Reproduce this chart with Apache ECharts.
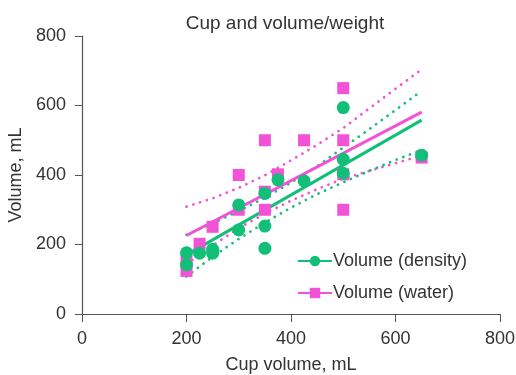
<!DOCTYPE html>
<html lang="en">

<head>
    <meta charset="UTF-8">
    <title>Cup and volume/weight</title>
    <script src="https://cdn.jsdelivr.net/npm/echarts@6/dist/echarts.min.js"></script>
    <style>
        html, body { margin: 0; padding: 0; background: #fff; }
        #chart { width: 516px; height: 375px; }
    </style>
</head>

<body>
    <div id="chart"></div>
    <script>
        // measured points [cup volume, volume]
        var densityPts = [
            [200, 176], [200, 141], [225, 175], [250, 186], [250, 175],
            [300, 314], [300, 242], [350, 347], [350, 253], [350, 189],
            [375, 386], [425, 383], [500, 594], [500, 445], [500, 405], [650, 457]
        ];
        var waterPts = [
            [200, 152], [200, 124], [225, 202], [250, 251], [300, 400],
            [300, 300], [350, 500], [350, 352], [350, 300], [375, 402],
            [425, 500], [500, 650], [500, 500], [500, 402], [500, 300], [650, 450]
        ];
        // fit lines and bands, read at these x
        var bandX = [200, 250, 300, 350, 400, 450, 500, 550, 600, 650];
        var densityFit = [170, 213, 256, 299, 342, 385, 429, 472, 515, 558];
        var densityUpper = [228, 261, 296, 335, 378, 425, 479, 532, 587, 642];
        var densityLower = [108, 165, 216, 263, 306, 345, 379, 412, 443, 472];
        var waterFit = [226, 265, 305, 344, 384, 423, 462, 502, 541, 581];
        var waterUpper = [309, 333, 363, 399, 442, 487, 535, 592, 648, 704];
        var waterLower = [143, 197, 247, 289, 326, 359, 389, 412, 434, 456];
        var xTicks = [0, 200, 400, 600, 800];
        var yTicks = [0, 200, 400, 600, 800];

        var green = '#12bf78';
        var pink = '#f152d6';
        var font = 'Liberation Sans, Arial, sans-serif';

        function pair(xs, ys) {
            return xs.map(function (x, i) { return [x, ys[i]]; });
        }

        // dotted band line, round caps turn the short dashes into dots
        function band(name, ys, color) {
            return {
                name: name, type: 'line', data: pair(bandX, ys), showSymbol: false, symbol: 'none',
                silent: true, z: 1,
                lineStyle: { color: color, width: 2.7, type: [0.1, 7], cap: 'round' }
            };
        }

        var chart = echarts.init(document.getElementById('chart'));
        chart.setOption({
            backgroundColor: '#fff',
            animation: false,
            title: {
                text: 'Cup and volume/weight', left: 285, top: 14, textAlign: 'center', padding: 0,
                textStyle: { fontFamily: font, fontSize: 19, fontWeight: 'normal', color: '#333' }
            },
            legend: {
                data: ['Volume (density)', 'Volume (water)'],
                orient: 'vertical', left: 297, top: 252, padding: 0,
                itemWidth: 34, itemHeight: 13, itemGap: 14,
                textStyle: { fontFamily: font, fontSize: 18, color: '#333', padding: [0, 0, 0, -4] }
            },
            grid: { left: 82, right: 16, top: 36, bottom: 61, outerBoundsMode: 'none' },
            xAxis: {
                type: 'value', min: xTicks[0], max: xTicks[xTicks.length - 1], interval: 200,
                name: 'Cup volume, mL', nameLocation: 'middle', nameGap: 42,
                nameTextStyle: { fontFamily: font, fontSize: 18, color: '#333' },
                axisLine: { lineStyle: { color: '#555', width: 1.2 } },
                axisTick: { show: true, length: 8, lineStyle: { color: '#555' } },
                axisLabel: { fontFamily: font, fontSize: 18, color: '#333', margin: 16 },
                splitLine: { show: false }
            },
            yAxis: {
                type: 'value', min: yTicks[0], max: yTicks[yTicks.length - 1], interval: 200,
                name: 'Volume, mL', nameLocation: 'middle', nameGap: 53,
                nameTextStyle: { fontFamily: font, fontSize: 18, color: '#333' },
                axisLine: { show: true, lineStyle: { color: '#555', width: 1.2 } },
                axisTick: { show: true, length: 7, lineStyle: { color: '#555' } },
                axisLabel: { fontFamily: font, fontSize: 18, color: '#333', margin: 16 },
                splitLine: { show: false }
            },
            series: [
                {
                    name: 'Volume (density)', type: 'line', data: pair([bandX[0], bandX[bandX.length - 1]], [densityFit[0], densityFit[densityFit.length - 1]]),
                    showSymbol: false, symbol: 'circle', symbolSize: 13, z: 2,
                    itemStyle: { color: green }, lineStyle: { color: green, width: 3 }
                },
                {
                    name: 'Volume (water)', type: 'line', data: pair([bandX[0], bandX[bandX.length - 1]], [waterFit[0], waterFit[waterFit.length - 1]]),
                    showSymbol: false, symbol: 'rect', symbolSize: 13, z: 2,
                    itemStyle: { color: pink }, lineStyle: { color: pink, width: 3 }
                },
                band('water upper', waterUpper, pink),
                band('water lower', waterLower, pink),
                band('density upper', densityUpper, green),
                band('density lower', densityLower, green),
                {
                    name: 'water points', type: 'scatter', data: waterPts, symbol: 'rect', symbolSize: 12, z: 3,
                    itemStyle: { color: pink, opacity: 1 }
                },
                {
                    name: 'density points', type: 'scatter', data: densityPts, symbol: 'circle', symbolSize: 13, z: 4,
                    itemStyle: { color: green, opacity: 1 }
                }
            ]
        });
    </script>
</body>

</html>
